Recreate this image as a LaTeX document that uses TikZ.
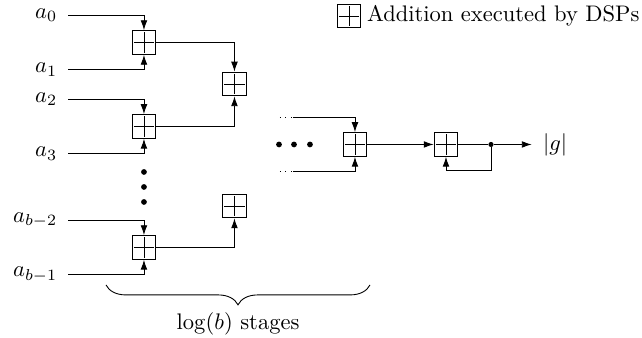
\documentclass[tikz,border=0pt]{standalone}
\usepackage{amsmath}
\usetikzlibrary{arrows.meta, positioning, decorations.pathreplacing}

\begin{document}
\begin{tikzpicture}[
    adder/.style={draw, minimum size=0.37cm, inner sep=0pt,
      path picture={\draw ([yshift=-0.8pt]path picture bounding box.north) -- ([yshift=0.8pt]path picture bounding box.south)
                           ([xshift=0.8pt]path picture bounding box.west) -- ([xshift=-0.8pt]path picture bounding box.east);}},
    inlabel/.style={anchor=east, inner sep=0pt, outer sep=0.17cm},
    arr/.style={-{Latex[length=4.4pt, width=3pt]}},
    dot/.style={circle, fill, inner sep=0pt, minimum size=0.09cm}
  ]
  \useasboundingbox (0,0) rectangle (10.016,5.273);

  % Erste Stufe: Eingaenge paarweise addieren
  \foreach \name/\y/\ina/\inb/\la/\lb in {A1/4.610/a0/a1/0/1, A2/3.300/a2/a3/2/3,
                                          A3/1.412/ab2/ab1/{b-2}/{b-1}} {
    \node[adder] (\name) at (2.246,\y) {};
    \node[inlabel] (\ina) at (1.061,\y+0.424) {$a_{\la}$};
    \node[inlabel] (\inb) at (1.061,\y-0.424) {$a_{\lb}$};
    \draw[arr] (\ina.east) -| (\name.north);
    \draw[arr] (\inb.east) -| (\name.south);
  }

  % Punkte zwischen den Eingaengen
  \foreach \y [count=\i] in {2.590, 2.356, 2.122}
    \node[dot] (vd\i) at (2.246,\y) {};

  % Zweite Stufe
  \node[adder] (B1) at (3.658,3.963) {};
  \node[adder] (B2) at (3.658,2.059) {};
  \draw[arr] (A1.east) -| (B1.north);
  \draw[arr] (A2.east) -| (B1.south);
  \draw[arr] (A3.east) -| (B2.south);

  % weitere Stufen
  \foreach \x [count=\i] in {4.353, 4.587, 4.836}
    \node[dot] (hd\i) at (\x,3.019) {};

  % Letzte Stufe
  \node[adder] (C) at (5.538,3.019) {};
  \coordinate (c1) at (4.368,3.443);
  \coordinate (c2) at (4.368,2.605);
  \foreach \c/\side in {c1/north, c2/south} {
    \draw[dotted] (\c) -- ++(0.2,0) coordinate (\c-s);
    \draw[arr] (\c-s) -| (C.\side);
  }

  % Akkumulator mit Rueckfuehrung
  \node[adder] (D) at (6.958,3.019) {};
  \node[dot, minimum size=0.08cm] (tap) at (7.66,3.019) {};
  \node (g) at (8.66,3.019) {$|g|$};
  \draw[arr] (C) -- (D);
  \draw (D) -- (tap);
  \draw[arr, shorten >=1.5pt] (tap) -- (g);
  \draw[arr] (tap) -- ++(0,-0.41) -| (D.south);

  % Klammer
  \draw[decorate, decoration={brace, mirror, amplitude=0.31cm}]
    (1.654,0.827) -- (5.772,0.827);
  \node (stages) at (3.713,0.218) {$\log(b)$ stages};

  % Legende
  \node[adder] (leg) at (5.445,5.023) {};
  \node[right=-1pt of leg] (legtext) {Addition executed by DSPs};
\end{tikzpicture}
\end{document}
